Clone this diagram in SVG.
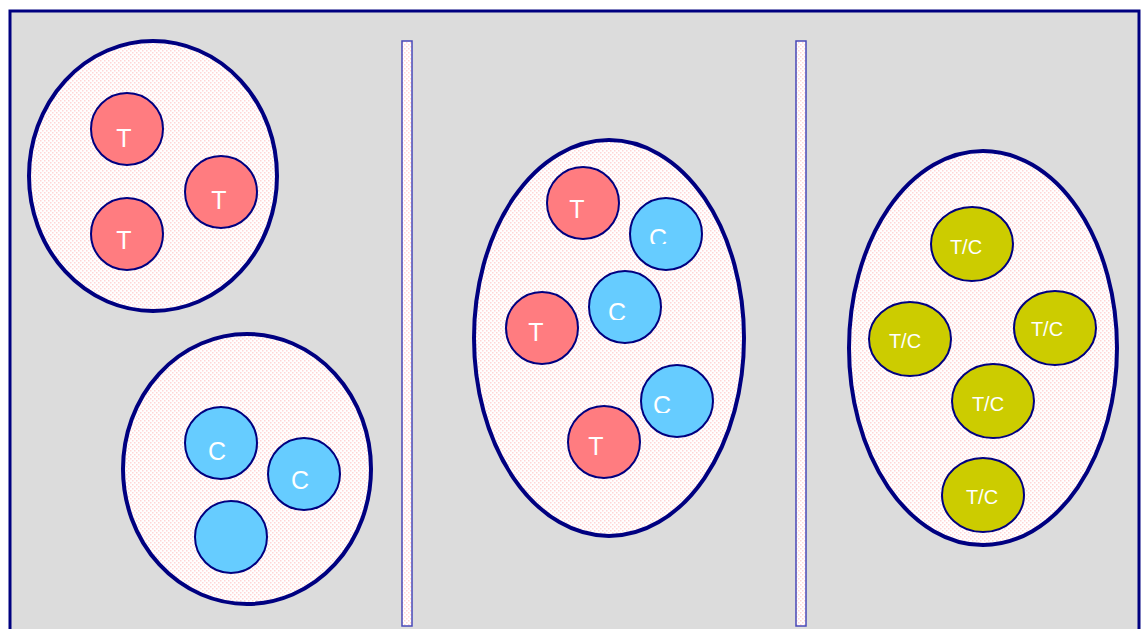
<svg xmlns="http://www.w3.org/2000/svg" width="1145" height="629" viewBox="0 0 1145 629">
<defs>
<pattern id="dots" width="4" height="4" patternUnits="userSpaceOnUse">
<rect width="4" height="4" fill="#ffffff"/>
<rect x="0" y="0" width="1.5" height="1.5" fill="#ffd6d6"/>
<rect x="2" y="2" width="1.5" height="1.5" fill="#ffd6d6"/>
</pattern>
<clipPath id="c1"><rect x="600" y="150" width="120" height="94"/></clipPath>
<clipPath id="c2"><rect x="560" y="250" width="120" height="70"/></clipPath>
<clipPath id="c3"><rect x="620" y="350" width="120" height="63"/></clipPath>
</defs>
<style>
.frame{fill:#dcdcdc;stroke:#000080;stroke-width:3}
.group{fill:url(#dots);stroke:#000080;stroke-width:4}
.bar{fill:url(#dots);stroke:#4848b8;stroke-width:1.5}
.t{fill:#ff7c80;stroke:#000080;stroke-width:2}
.c{fill:#66ccff;stroke:#000080;stroke-width:2}
.y{fill:#cccc00;stroke:#000080;stroke-width:2}
.lbl{font-family:"Liberation Sans",Arial,sans-serif;font-size:25px;fill:#ffffff;text-anchor:middle}
.lbly{font-family:"Liberation Sans",Arial,sans-serif;font-size:20px;fill:#ffffff;text-anchor:middle}
</style>
<rect class="frame" x="10" y="11" width="1129" height="630"/>
<g id="bars">
<rect id="bar1" class="bar" x="402" y="41" width="10" height="585"/>
<rect id="bar2" class="bar" x="796" y="41" width="10" height="585"/>
</g>
<g id="group-tl"><ellipse class="group" cx="153" cy="176" rx="124" ry="135"/></g>
<g id="group-bl"><ellipse class="group" cx="247" cy="469" rx="124" ry="135"/></g>
<g id="group-mid"><ellipse class="group" cx="609" cy="338" rx="135" ry="198"/></g>
<g id="group-right"><ellipse class="group" cx="983" cy="348" rx="134" ry="197"/></g>

<g id="t1"><circle class="t" cx="127" cy="129" r="36"/><text class="lbl" x="124" y="147">T</text></g>
<g id="t2"><circle class="t" cx="221" cy="192" r="36"/><text class="lbl" x="219" y="209">T</text></g>
<g id="t3"><circle class="t" cx="127" cy="234" r="36"/><text class="lbl" x="124" y="249">T</text></g>
<g id="c1n"><circle class="c" cx="221" cy="443" r="36"/><text class="lbl" x="217" y="460">C</text></g>
<g id="c2n"><circle class="c" cx="304" cy="474" r="36"/><text class="lbl" x="300" y="489">C</text></g>
<g id="c3n"><circle class="c" cx="231" cy="537" r="36"/></g>

<g id="t4"><circle class="t" cx="583" cy="203" r="36"/><text class="lbl" x="577" y="218">T</text></g>
<g id="c4"><circle class="c" cx="666" cy="234" r="36"/><text class="lbl" x="658" y="247" clip-path="url(#c1)">C</text></g>
<g id="c5"><circle class="c" cx="625" cy="307" r="36"/><text class="lbl" x="617" y="321" clip-path="url(#c2)">C</text></g>
<g id="t5"><circle class="t" cx="542" cy="328" r="36"/><text class="lbl" x="536" y="341">T</text></g>
<g id="c6"><circle class="c" cx="677" cy="401" r="36"/><text class="lbl" x="662" y="414" clip-path="url(#c3)">C</text></g>
<g id="t6"><circle class="t" cx="604" cy="442" r="36"/><text class="lbl" x="596" y="455">T</text></g>

<g id="y1"><ellipse class="y" cx="972" cy="244" rx="41" ry="37"/><text class="lbly" x="966" y="254">T/C</text></g>
<g id="y2"><ellipse class="y" cx="910" cy="339" rx="41" ry="37"/><text class="lbly" x="905" y="348">T/C</text></g>
<g id="y3"><ellipse class="y" cx="1055" cy="328" rx="41" ry="37"/><text class="lbly" x="1047" y="336">T/C</text></g>
<g id="y4"><ellipse class="y" cx="993" cy="401" rx="41" ry="37"/><text class="lbly" x="988" y="411">T/C</text></g>
<g id="y5"><ellipse class="y" cx="983" cy="495" rx="41" ry="37"/><text class="lbly" x="982" y="504">T/C</text></g>
</svg>
